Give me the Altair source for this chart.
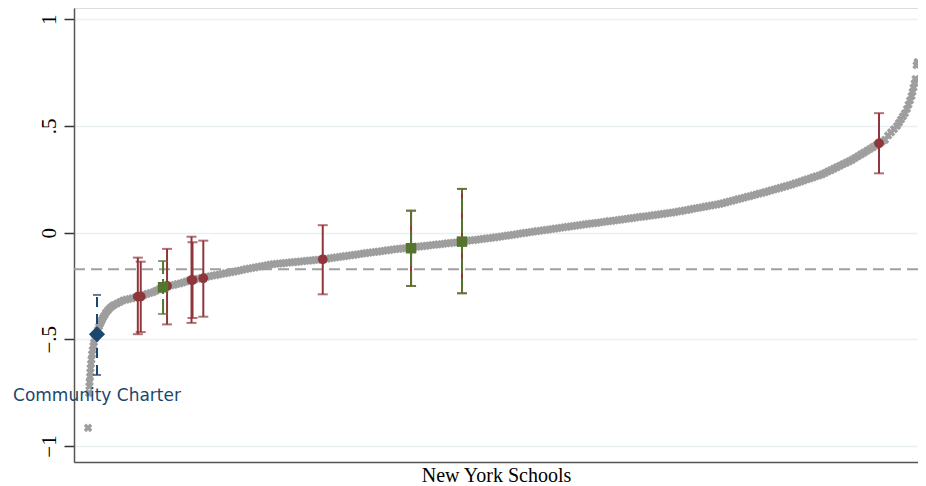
import altair as alt
import numpy as np
import pandas as pd

# ---- grey curve: all schools, sorted (x = percentile rank) ----
low_tail_rank = [0, 0.12, 0.16, 0.19, 0.24, 0.28, 0.31, 0.36, 0.41, 0.48, 0.55, 0.64, 0.72,
                 0.84, 0.96, 1.08, 1.2, 1.33, 1.45, 1.57, 1.69, 1.81, 1.99, 2.17, 2.41, 2.65, 2.89]
low_tail_val = [-0.915, -0.752, -0.72, -0.70, -0.675, -0.655, -0.635, -0.615, -0.595, -0.57, -0.55,
                -0.53, -0.515, -0.497, -0.483, -0.47, -0.455, -0.44, -0.428, -0.418, -0.408, -0.398,
                -0.387, -0.375, -0.363, -0.353, -0.345]

body_rank_start, body_rank_end = 3.13, 96.02
body_val = [
    -0.339, -0.332, -0.325, -0.318,
    -0.314, -0.311, -0.308, -0.304, -0.301,
    -0.296, -0.292, -0.287, -0.283, -0.279,
    -0.272, -0.266, -0.260,
    -0.255, -0.251, -0.248, -0.245, -0.241, -0.238,
    -0.234, -0.229, -0.225,
    -0.222, -0.219, -0.216, -0.213, -0.210, -0.207, -0.204, -0.201, -0.199, -0.196, -0.193, -0.191,
    -0.188, -0.185, -0.183, -0.180, -0.177,
    -0.174, -0.171, -0.168, -0.166, -0.163, -0.160, -0.158, -0.155, -0.153, -0.150, -0.148,
    -0.146, -0.145, -0.144, -0.142, -0.141, -0.139, -0.138, -0.137, -0.135, -0.134, -0.132, -0.131,
    -0.130, -0.128, -0.127, -0.126,
    -0.124, -0.122, -0.120, -0.118, -0.116, -0.114, -0.112, -0.110, -0.108, -0.106, -0.104, -0.102,
    -0.100, -0.098, -0.096, -0.094, -0.092, -0.091, -0.089, -0.087, -0.085, -0.083, -0.081, -0.079,
    -0.077, -0.076, -0.074,
    -0.073, -0.071, -0.070, -0.068, -0.066, -0.065, -0.063, -0.062, -0.060, -0.058, -0.057, -0.055,
    -0.054, -0.052, -0.050, -0.049, -0.047, -0.046, -0.044, -0.042,
    -0.040, -0.038, -0.036, -0.035, -0.033, -0.031, -0.029, -0.027, -0.026, -0.024, -0.022, -0.020,
    -0.018, -0.016, -0.014, -0.012, -0.010, -0.008, -0.005, -0.003, -0.001, 0.001, 0.003, 0.005,
    0.007, 0.009, 0.011, 0.013, 0.015,
    0.017, 0.019, 0.021, 0.023, 0.025, 0.027, 0.029, 0.031, 0.033, 0.035, 0.037,
    0.039, 0.041, 0.043, 0.044, 0.046, 0.048, 0.050, 0.052, 0.054, 0.055, 0.057,
    0.059, 0.061, 0.063, 0.065, 0.067, 0.069, 0.071, 0.073, 0.075,
    0.076, 0.078, 0.080, 0.082, 0.084, 0.086, 0.088, 0.090, 0.092, 0.094, 0.096,
    0.099, 0.101, 0.104, 0.106, 0.109, 0.112, 0.114, 0.117, 0.119, 0.122, 0.125, 0.127, 0.130,
    0.132, 0.135, 0.138,
    0.142, 0.146, 0.149, 0.153, 0.157, 0.160, 0.164, 0.168, 0.171, 0.175, 0.179, 0.183,
    0.186, 0.190, 0.194, 0.198, 0.202, 0.206, 0.210, 0.214, 0.218, 0.222,
    0.226, 0.231, 0.235, 0.240, 0.245, 0.250, 0.254, 0.259, 0.264, 0.268,
    0.273, 0.280, 0.287, 0.293, 0.300, 0.307, 0.314, 0.321, 0.327, 0.334, 0.341,
    0.350, 0.358, 0.367, 0.375, 0.384, 0.392, 0.401, 0.409, 0.418, 0.426, 0.435,
]

high_tail_rank = [96.39, 96.75, 97.11, 97.47, 97.71, 97.95, 98.19, 98.43, 98.67, 98.86, 99.04,
                  99.22, 99.34, 99.46, 99.58, 99.70, 99.82, 99.94]
high_tail_val = [0.455, 0.47, 0.485, 0.50, 0.515, 0.53, 0.545, 0.56, 0.58, 0.60, 0.62, 0.64,
                 0.66, 0.68, 0.70, 0.72, 0.785, 0.80]

# ---- highlighted schools ----
red_rank = [6.0, 6.35, 9.52, 12.47, 12.59, 13.89, 28.28, 38.92, 45.06, 95.3]
red_est = [-0.30, -0.30, -0.25, -0.222, -0.222, -0.214, -0.125, -0.073, -0.042, 0.419]
red_lo = [-0.476, -0.466, -0.43, -0.423, -0.40, -0.394, -0.289, -0.25, -0.284, 0.278]
red_hi = [-0.117, -0.136, -0.076, -0.019, -0.045, -0.0375, 0.035, 0.103, 0.205, 0.56]

green_rank = [9.04, 38.92, 45.06]
green_est = [-0.256, -0.073, -0.042]
green_lo = [-0.381, -0.25, -0.284]
green_hi = [-0.133, 0.103, 0.205]

blue_rank = [1.08]
blue_est = [-0.476]
blue_lo = [-0.667]
blue_hi = [-0.292]
blue_label = ["Community Charter"]
blue_label_y = [-0.766]

state_mean = [-0.172]

y_ticks = [-1, -0.5, 0, 0.5, 1]

RED = "#90353b"
GREEN = "#55752f"
BLUE = "#1a476f"
GREY = "#9e9e9e"

curve = pd.DataFrame({
    "rank": list(low_tail_rank) + list(np.linspace(body_rank_start, body_rank_end, len(body_val))) + list(high_tail_rank),
    "value": list(low_tail_val) + list(body_val) + list(high_tail_val),
})
red = pd.DataFrame({"rank": red_rank, "est": red_est, "lo": red_lo, "hi": red_hi})
green = pd.DataFrame({"rank": green_rank, "est": green_est, "lo": green_lo, "hi": green_hi})
blue = pd.DataFrame({"rank": blue_rank, "est": blue_est, "lo": blue_lo, "hi": blue_hi,
                     "label": blue_label, "ly": blue_label_y})
mean_df = pd.DataFrame({"y": state_mean})

xscale = alt.Scale(domain=[-1.69, 100.0], nice=False, zero=False)
yscale = alt.Scale(domain=[-1.075, 1.053], nice=False, zero=False)

X = alt.X("rank:Q", scale=xscale, axis=alt.Axis(
    title="New York Schools", labels=False, ticks=False, grid=False,
    domainColor="#555555", domainWidth=1.5, titleFont="Liberation Serif",
    titleFontSize=20, titleFontWeight="normal", titleColor="#000000", titlePadding=3))

yaxis = alt.Axis(title=None, values=y_ticks, grid=True, gridColor="#e8f0f2", gridWidth=1.5,
                 domainColor="#555555", domainWidth=1.5, tickSize=10, tickColor="#333333",
                 tickWidth=1.5, labelAngle=270, labelAlign="center", labelBaseline="bottom",
                 labelPadding=5, labelFont="Liberation Serif", labelFontSize=21,
                 labelColor="#000000",
                 labelExpr="datum.value == 0 ? '0' : replace(format(datum.value, ''), '0.', '.')")

base_curve = alt.Chart(curve).mark_point(shape="cross", angle=45, filled=True, size=75,
                                         color=GREY, opacity=1).encode(
    x=X, y=alt.Y("value:Q", scale=yscale, axis=yaxis))

mean_line = alt.Chart(mean_df).mark_rule(color="#a0a0a0", strokeWidth=2,
                                         strokeDash=[11, 6]).encode(y=alt.Y("y:Q", scale=yscale))


def bars(df, color, dash=None, cap=10):
    kw = dict(color=color, strokeWidth=2)
    if dash:
        kw["strokeDash"] = dash
    rule = alt.Chart(df).mark_rule(**kw).encode(
        x=alt.X("rank:Q", scale=xscale), y=alt.Y("lo:Q", scale=yscale), y2="hi:Q")
    c1 = alt.Chart(df).mark_tick(color=color, orient="horizontal", size=cap, thickness=2).encode(
        x=alt.X("rank:Q", scale=xscale), y=alt.Y("lo:Q", scale=yscale))
    c2 = alt.Chart(df).mark_tick(color=color, orient="horizontal", size=cap, thickness=2).encode(
        x=alt.X("rank:Q", scale=xscale), y=alt.Y("hi:Q", scale=yscale))
    return rule + c1 + c2


red_bars = bars(red, RED)
red_pts = alt.Chart(red).mark_point(shape="circle", filled=True, size=95, color=RED, opacity=1).encode(
    x=alt.X("rank:Q", scale=xscale), y=alt.Y("est:Q", scale=yscale))
green_bars = bars(green, GREEN, dash=[15, 5])
green_pts = alt.Chart(green).mark_point(shape="square", filled=True, size=110, color=GREEN, opacity=1).encode(
    x=alt.X("rank:Q", scale=xscale), y=alt.Y("est:Q", scale=yscale))
blue_bars = bars(blue, BLUE, dash=[10, 7], cap=8)
blue_pts = alt.Chart(blue).mark_point(shape="diamond", filled=True, size=260, color=BLUE, opacity=1).encode(
    x=alt.X("rank:Q", scale=xscale), y=alt.Y("est:Q", scale=yscale))
blue_txt = alt.Chart(blue).mark_text(font="DejaVu Sans", fontSize=17, color=BLUE,
                                     align="center", baseline="middle").encode(
    x=alt.X("rank:Q", scale=xscale), y=alt.Y("ly:Q", scale=yscale), text="label:N")

chart = alt.layer(
    mean_line, base_curve, red_bars, red_pts, green_bars, green_pts, blue_bars, blue_pts, blue_txt
).properties(
    width=844, height=454,
    autosize=alt.AutoSizeParams(type="none"),
    padding={"left": 66, "top": 0, "right": 0, "bottom": 24},
).configure_view(stroke=None).configure(background="white")

chart.save("out.html", embed_options={"renderer": "svg", "actions": False})
